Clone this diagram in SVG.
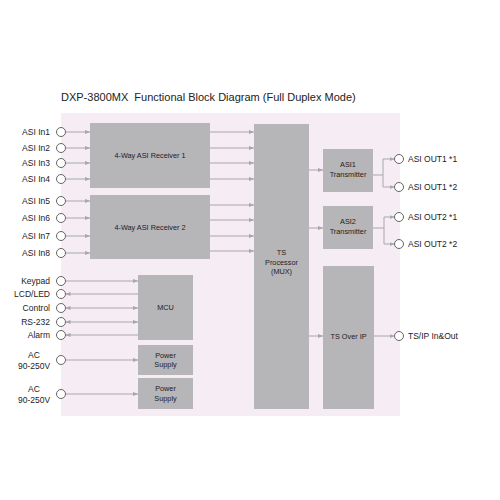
<svg xmlns="http://www.w3.org/2000/svg" width="500" height="500" viewBox="0 0 500 500">
<defs>
<style>
text{font-family:"Liberation Sans",Arial,sans-serif;fill:#222}
.lbl{font-size:8.5px}
.r{text-anchor:end}
.bt{font-size:7.3px;text-anchor:middle}
.box{fill:#b6b5b8}
.c{fill:#fff;stroke:#555;stroke-width:0.9}
.ln{stroke:#a9a7ab;stroke-width:1;fill:none}
.a{marker-end:url(#ah)}
.as{marker-start:url(#ahs)}
</style>
<marker id="ah" viewBox="0 0 6 6" refX="6" refY="3" markerWidth="5" markerHeight="5" orient="auto" markerUnits="userSpaceOnUse"><path d="M0,0.5 L6,3 L0,5.5 z" fill="#a9a7ab"/></marker>
<marker id="ahs" viewBox="0 0 6 6" refX="0" refY="3" markerWidth="5" markerHeight="5" orient="auto" markerUnits="userSpaceOnUse"><path d="M6,0.5 L0,3 L6,5.5 z" fill="#a9a7ab"/></marker>
</defs>
<rect width="500" height="500" fill="#fff"/>
<text x="61" y="101" style="font-size:11px" xml:space="preserve">DXP-3800MX  Functional Block Diagram (Full Duplex Mode)</text>
<rect x="61" y="113" width="339" height="303" fill="#f5edf3"/>

<g id="connectors">
<path class="ln a" d="M65.5,132H90"/>
<path class="ln a" d="M65.5,148H90"/>
<path class="ln a" d="M65.5,163H90"/>
<path class="ln a" d="M65.5,179H90"/>
<path class="ln a" d="M65.5,201H90"/>
<path class="ln a" d="M65.5,218H90"/>
<path class="ln a" d="M65.5,236H90"/>
<path class="ln a" d="M65.5,253H90"/>
<path class="ln a" d="M210,132H254"/>
<path class="ln a" d="M210,148H254"/>
<path class="ln a" d="M210,163H254"/>
<path class="ln a" d="M210,179H254"/>
<path class="ln a" d="M210,205H254"/>
<path class="ln a" d="M210,220H254"/>
<path class="ln a" d="M210,236H254"/>
<path class="ln a" d="M210,251H254"/>
<path class="ln a" d="M309,170H323"/>
<path class="ln a" d="M309,228H323"/>
<path class="ln a" d="M309,336H323"/>
<path class="ln" d="M373,175H383M383,159V187M373,228H384M384,217V244"/>
<path class="ln a" d="M383,159H394.5"/>
<path class="ln a" d="M383,187H394.5"/>
<path class="ln a" d="M384,217H394.5"/>
<path class="ln a" d="M384,244H394.5"/>
<path class="ln a" d="M374,336H394.5"/>
<path class="ln a" d="M65.5,281H138"/>
<path class="ln as" d="M65.5,294H138"/>
<path class="ln a as" d="M65.5,308H138"/>
<path class="ln a as" d="M65.5,322H138"/>
<path class="ln as" d="M65.5,335H138"/>
<path class="ln a" d="M65.5,360H138"/>
<path class="ln a" d="M65.5,394H138"/>
</g>

<g id="inputs">
<text class="lbl r" x="50" y="135">ASI In1</text><circle class="c" cx="61" cy="132" r="4.5"/>
<text class="lbl r" x="50" y="151">ASI In2</text><circle class="c" cx="61" cy="148" r="4.5"/>
<text class="lbl r" x="50" y="166">ASI In3</text><circle class="c" cx="61" cy="163" r="4.5"/>
<text class="lbl r" x="50" y="182">ASI In4</text><circle class="c" cx="61" cy="179" r="4.5"/>
<text class="lbl r" x="50" y="204">ASI In5</text><circle class="c" cx="61" cy="201" r="4.5"/>
<text class="lbl r" x="50" y="221">ASI In6</text><circle class="c" cx="61" cy="218" r="4.5"/>
<text class="lbl r" x="50" y="239">ASI In7</text><circle class="c" cx="61" cy="236" r="4.5"/>
<text class="lbl r" x="50" y="256">ASI In8</text><circle class="c" cx="61" cy="253" r="4.5"/>
<text class="lbl r" x="50" y="284">Keypad</text><circle class="c" cx="61" cy="281" r="4.5"/>
<text class="lbl r" x="50" y="297">LCD/LED</text><circle class="c" cx="61" cy="294" r="4.5"/>
<text class="lbl r" x="50" y="311">Control</text><circle class="c" cx="61" cy="308" r="4.5"/>
<text class="lbl r" x="50" y="325">RS-232</text><circle class="c" cx="61" cy="322" r="4.5"/>
<text class="lbl r" x="50" y="338">Alarm</text><circle class="c" cx="61" cy="335" r="4.5"/>
<text class="lbl" x="34" y="358" text-anchor="middle">AC</text><text class="lbl" x="34" y="369" text-anchor="middle">90-250V</text><circle class="c" cx="61" cy="360" r="4.5"/>
<text class="lbl" x="34" y="392" text-anchor="middle">AC</text><text class="lbl" x="34" y="403" text-anchor="middle">90-250V</text><circle class="c" cx="61" cy="394" r="4.5"/>
</g>

<g id="receiver1"><rect class="box" x="90" y="123" width="120" height="65"/><text class="bt" x="150" y="158">4-Way ASI Receiver 1</text></g>
<g id="receiver2"><rect class="box" x="90" y="195" width="120" height="64"/><text class="bt" x="150" y="230">4-Way ASI Receiver 2</text></g>
<g id="mcu"><rect class="box" x="138" y="275" width="55" height="65"/><text class="bt" x="165.5" y="310">MCU</text></g>
<g id="power1"><rect class="box" x="138" y="345" width="55" height="30"/><text class="bt" x="165.5" y="357.5">Power</text><text class="bt" x="165.5" y="367">Supply</text></g>
<g id="power2"><rect class="box" x="138" y="378" width="55" height="31"/><text class="bt" x="165.5" y="391">Power</text><text class="bt" x="165.5" y="400.5">Supply</text></g>
<g id="tsproc"><rect class="box" x="254" y="124" width="55" height="285"/><text class="bt" x="281.5" y="255">TS</text><text class="bt" x="281.5" y="264.5">Processor</text><text class="bt" x="281.5" y="274">(MUX)</text></g>
<g id="asi1tx"><rect class="box" x="323" y="149" width="50" height="43"/><text class="bt" x="348" y="167">ASI1</text><text class="bt" x="348" y="177">Transmitter</text></g>
<g id="asi2tx"><rect class="box" x="323" y="206" width="50" height="43"/><text class="bt" x="348" y="224">ASI2</text><text class="bt" x="348" y="234">Transmitter</text></g>
<g id="tsip"><rect class="box" x="323" y="266" width="51" height="143"/><text class="bt" x="348.5" y="339">TS Over IP</text></g>

<g id="outputs">
<circle class="c" cx="399" cy="159" r="4.5"/><text class="lbl" x="408" y="162">ASI OUT1 *1</text>
<circle class="c" cx="399" cy="187" r="4.5"/><text class="lbl" x="408" y="190">ASI OUT1 *2</text>
<circle class="c" cx="399" cy="217" r="4.5"/><text class="lbl" x="408" y="220">ASI OUT2 *1</text>
<circle class="c" cx="399" cy="244" r="4.5"/><text class="lbl" x="408" y="247">ASI OUT2 *2</text>
<circle class="c" cx="399" cy="336" r="4.5"/><text class="lbl" x="408" y="339">TS/IP In&amp;Out</text>
</g>
</svg>
